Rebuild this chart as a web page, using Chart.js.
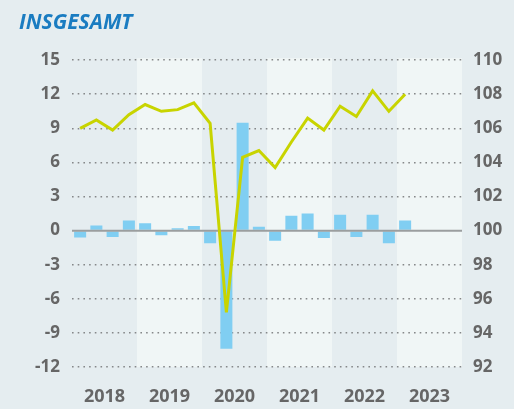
<!DOCTYPE html>
<html>
<head>
<meta charset="utf-8">
<script src="https://cdn.jsdelivr.net/npm/chart.js@4"></script>
<style>
    html, body { margin: 0; padding: 0; background: #e5edf0; }
    #wrap { width: 514px; height: 409px; }
</style>
</head>
<body>
<div id="wrap"><canvas id="chart" width="514" height="409"></canvas></div>
<script>
// quarters 2018 Q1 .. 2023 Q1 (x axis runs to the end of 2023)
const years = ['2018', '2019', '2020', '2021', '2022', '2023'];
const quarters = ['2018 Q1', '2018 Q2', '2018 Q3', '2018 Q4',
    '2019 Q1', '2019 Q2', '2019 Q3', '2019 Q4',
    '2020 Q1', '2020 Q2', '2020 Q3', '2020 Q4',
    '2021 Q1', '2021 Q2', '2021 Q3', '2021 Q4',
    '2022 Q1', '2022 Q2', '2022 Q3', '2022 Q4',
    '2023 Q1'];

// change on previous quarter, % (left axis)
const changeValues = [-0.6, 0.45, -0.55, 0.9,
    0.65, -0.4, 0.2, 0.4,
    -1.1, -10.4, 9.5, 0.35,
    -0.9, 1.3, 1.5, -0.65,
    1.4, -0.55, 1.4, -1.1,
    0.9];

// index level (right axis)
const indexValues = [106.0, 106.5, 105.9, 106.8,
    107.4, 107.0, 107.1, 107.5,
    106.3, 95.2, 104.3, 104.7,
    103.7, 105.2, 106.6, 105.9,
    107.3, 106.7, 108.2, 107.0,
    108.0];

const leftTicks = [-12, -9, -6, -3, 0, 3, 6, 9, 12, 15];
const rightTicks = [92, 94, 96, 98, 100, 102, 104, 106, 108, 110];

const tickFont = { family: 'Open Sans', size: 17, weight: 'bold' };

// light background band for every second year
const yearBands = {
    id: 'yearBands',
    beforeDraw(chart) {
        const { ctx, chartArea, scales } = chart;
        ctx.save();
        ctx.fillStyle = '#f0f6f6';
        years.forEach((y, i) => {
            if (i % 2 === 0) return;
            const x0 = scales.x.getPixelForValue(i * 4);
            const x1 = scales.x.getPixelForValue(i * 4 + 4);
            ctx.fillRect(x0, chartArea.top - 2, x1 - x0, chartArea.bottom - chartArea.top + 2);
        });
        ctx.restore();
    }
};

// solid zero line, drawn over the bars but under the index line
const zeroLine = {
    id: 'zeroLine',
    afterDatasetDraw(chart, args) {
        if (args.index !== 0) return;
        const { ctx, chartArea, scales } = chart;
        const y = scales.y.getPixelForValue(0);
        ctx.save();
        ctx.strokeStyle = '#9b9e9f';
        ctx.lineWidth = 2;
        ctx.beginPath();
        ctx.moveTo(chartArea.left, y);
        ctx.lineTo(chartArea.right, y);
        ctx.stroke();
        ctx.restore();
    }
};

const ctx = document.getElementById('chart').getContext('2d');
new Chart(ctx, {
    type: 'bar',
    data: {
        datasets: [{
            label: 'Veränderung',
            data: changeValues.map((v, i) => ({ x: i + 0.5, y: v })),
            backgroundColor: '#80cef2',
            barPercentage: 0.74,
            categoryPercentage: 1,
            yAxisID: 'y',
            order: 1
        }, {
            type: 'line',
            label: 'Index',
            data: indexValues.map((v, i) => ({ x: i + 0.5, y: v })),
            borderColor: '#c8d400',
            borderWidth: 3,
            pointRadius: 0,
            tension: 0,
            yAxisID: 'y1',
            order: 0
        }]
    },
    options: {
        responsive: false,
        animation: false,
        layout: { padding: { left: 19, right: 0, top: 0, bottom: 0 } },
        plugins: {
            legend: { display: false },
            tooltip: { enabled: false },
            title: {
                display: true,
                text: 'INSGESAMT',
                align: 'start',
                color: '#1a7cc1',
                font: { family: 'Open Sans', size: 21, weight: 'bold', style: 'italic' },
                padding: { top: 10, bottom: 25 }
            }
        },
        scales: {
            x: {
                type: 'linear',
                offset: false,
                min: 0,
                max: years.length * 4,
                grid: { display: false },
                border: { display: false },
                afterBuildTicks: scale => {
                    scale.ticks = years.map((y, i) => ({ value: i * 4 + 2 }));
                },
                afterFit: scale => { scale.height = 42; },
                ticks: {
                    callback: v => years[(v - 2) / 4],
                    color: '#666',
                    font: { family: 'Open Sans', size: 18, weight: 'bold' },
                    padding: 11,
                    maxRotation: 0
                }
            },
            y: {
                position: 'left',
                min: leftTicks[0],
                max: leftTicks[leftTicks.length - 1],
                afterBuildTicks: scale => {
                    scale.ticks = leftTicks.map(v => ({ value: v }));
                },
                afterFit: scale => { scale.width = 53; },
                grid: {
                    drawTicks: false,
                    color: c => c.tick && c.tick.value === 0 ? 'rgba(0,0,0,0)' : '#858889',
                    lineWidth: 1.6
                },
                border: { display: false, dash: [1.6, 4.1] },
                ticks: { color: '#666', font: tickFont, padding: 12 }
            },
            y1: {
                position: 'right',
                min: rightTicks[0],
                max: rightTicks[rightTicks.length - 1],
                afterBuildTicks: scale => {
                    scale.ticks = rightTicks.map(v => ({ value: v }));
                },
                afterFit: scale => { scale.width = 52; },
                grid: { display: false, drawTicks: false },
                border: { display: false },
                ticks: { color: '#666', font: tickFont, padding: 11 }
            }
        }
    },
    plugins: [yearBands, zeroLine]
});
</script>
</body>
</html>
